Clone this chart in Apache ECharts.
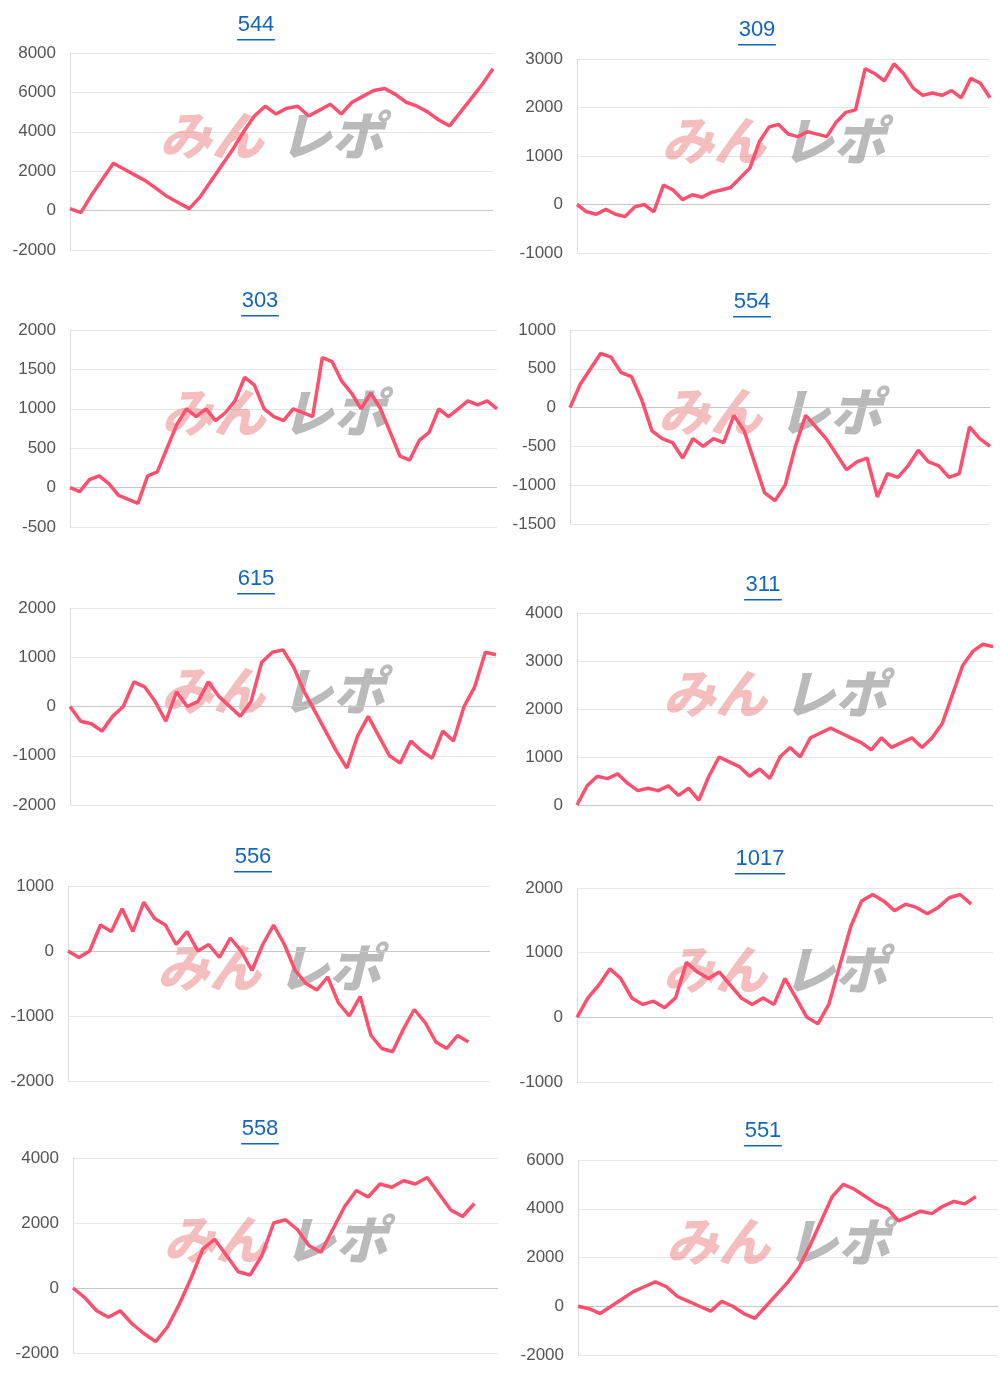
<!DOCTYPE html>
<html><head><meta charset="utf-8">
<script src="https://cdn.jsdelivr.net/npm/echarts@6/dist/echarts.min.js"></script>
<style>html,body{margin:0;background:#fff}#c{width:1000px;height:1375px}</style>
</head><body><div id="c"></div>
<script>
// 各台の差枚推移
const names = ['544', '309', '303', '554', '615', '311', '556', '1017', '558', '551'];
const s544 = [100,-100,800,1600,2400,2100,1800,1500,1100,700,400,100,700,1500,2300,3100,4000,4800,5300,4900,5200,5300,4800,5100,5400,4900,5500,5800,6100,6200,5900,5500,5300,5000,4600,4300,5000,5700,6400,7200];
const s309 = [0,-150,-200,-100,-200,-250,-50,0,-150,400,300,100,200,150,250,300,350,550,750,1300,1600,1650,1450,1400,1500,1450,1400,1700,1900,1950,2800,2700,2550,2900,2700,2400,2250,2300,2250,2350,2200,2600,2500,2200];
const s303 = [0,-50,100,150,50,-100,-150,-200,150,200,500,800,1000,900,1000,850,950,1100,1400,1300,1000,900,850,1000,950,900,1650,1600,1350,1200,1000,1200,1000,700,400,350,600,700,1000,900,1000,1100,1050,1100,1000];
const s554 = [0,300,500,700,650,450,400,100,-300,-400,-450,-650,-400,-500,-400,-450,-100,-300,-700,-1100,-1200,-1000,-500,-100,-250,-400,-600,-800,-700,-650,-1150,-850,-900,-750,-550,-700,-750,-900,-850,-250,-400,-500];
const s615 = [0,-300,-350,-500,-200,0,500,400,100,-300,300,0,100,500,200,0,-200,100,900,1100,1150,800,300,-100,-500,-900,-1250,-600,-200,-600,-1000,-1150,-700,-900,-1050,-500,-700,0,400,1100,1050];
const s311 = [0,400,600,550,650,450,300,350,300,400,200,350,100,600,1000,900,800,600,750,550,1000,1200,1000,1400,1500,1600,1500,1400,1300,1150,1400,1200,1300,1400,1200,1400,1700,2300,2900,3200,3350,3300];
const s556 = [0,-100,0,400,300,650,300,750,500,400,100,300,0,100,-100,200,0,-300,100,400,100,-300,-500,-600,-400,-800,-1000,-700,-1300,-1500,-1550,-1200,-900,-1100,-1400,-1500,-1300,-1400,null,null];
const s1017 = [0,300,500,750,600,300,200,250,150,300,850,700,600,700,500,300,200,300,200,600,300,0,-100,200,800,1400,1800,1900,1800,1650,1750,1700,1600,1700,1850,1900,1750,null,null];
const s558 = [0,-300,-700,-900,-700,-1100,-1400,-1650,-1200,-500,300,1200,1500,1000,500,400,1000,2000,2100,1800,1300,1100,1800,2500,3000,2800,3200,3100,3300,3200,3400,2900,2400,2200,2600,null,null];
const s551 = [0,-100,-300,0,300,600,800,1000,800,400,200,0,-200,200,0,-300,-500,0,500,1000,1600,2500,3500,4500,5000,4800,4500,4200,4000,3500,3700,3900,3800,4100,4300,4200,4500,null,null];
const seriesData = [s544, s309, s303, s554, s615, s311, s556, s1017, s558, s551];
const yMin = [-2000, -1000, -500, -1500, -2000, 0, -2000, -1000, -2000, -2000];
const yMax = [8000, 3000, 2000, 1000, 2000, 4000, 1000, 2000, 4000, 6000];
const yStep = [2000, 1000, 500, 500, 1000, 1000, 1000, 1000, 2000, 2000];

// 配置: 各パネルの位置 [left, top, right, bottom, titleX, titleY]
const boxes = [
  [70, 53, 493, 250, 256, 27], [577, 59, 990, 253, 757, 32],
  [70, 330, 497, 527, 260, 303], [570, 330, 990, 524, 752, 304],
  [70, 608, 496, 805, 256, 581], [577, 613, 993, 805, 763, 587],
  [68, 886, 490, 1081, 253, 859], [577, 888, 993, 1082, 760, 861],
  [73, 1158, 498, 1353, 260, 1131], [578, 1160, 998, 1355, 763, 1133]
];
const font = '"Liberation Sans", Arial, sans-serif';

let grid = [], xAxis = [], yAxis = [], series = [], graphic = [];
boxes.forEach((b, i) => {
  grid.push({left: b[0], top: b[1], width: b[2] - b[0], height: b[3] - b[1]});
  xAxis.push({gridIndex: i, type: 'category', boundaryGap: false,
    data: seriesData[i].map((v, k) => k),
    axisLine: {show: false}, axisTick: {show: false}, axisLabel: {show: false}, splitLine: {show: false}});
  yAxis.push({gridIndex: i, type: 'value', min: yMin[i], max: yMax[i], interval: yStep[i],
    axisLine: {show: true, lineStyle: {color: '#ddd'}}, axisTick: {show: false},
    axisLabel: {color: '#555', fontSize: 17, fontFamily: font, margin: 14, formatter: v => String(v)},
    splitLine: {lineStyle: {color: '#e6e6e6'}}});
  series.push({type: 'line', xAxisIndex: i, yAxisIndex: i, data: seriesData[i], showSymbol: false,
    z: 5, lineStyle: {color: '#ff4f6e', width: 3.5},
    markLine: {silent: true, symbol: 'none', label: {show: false},
      lineStyle: {color: '#c8c8c8', type: 'solid', width: 1}, data: [{yAxis: 0}]}});
  // タイトル
  graphic.push({type: 'text', x: b[4], y: b[5] - 13, z: 10,
    style: {text: names[i], fill: '#1565c0', font: '22px ' + font, textAlign: 'center'}});
  const w = names[i].length * 12.6;
  graphic.push({type: 'rect', shape: {x: b[4] - w / 2, y: b[5] + 12, width: w, height: 1.6}, style: {fill: '#1565c0'}, z: 10});
  // 透かし
  const cx = (b[0] + b[2]) / 2, cy = (b[1] + b[3]) / 2 - 40;
  graphic.push({type: 'text', x: cx - 122, y: cy - 2, z: 1,
    style: {text: 'みん', fill: 'rgba(230,110,110,0.45)', font: 'italic 900 52px "Noto Sans CJK JP"'}});
  graphic.push({type: 'text', x: cx - 2, y: cy - 2, z: 1,
    style: {text: 'レポ', fill: 'rgba(140,140,140,0.6)', font: 'italic 900 52px "Noto Sans CJK JP"'}});
});

const chart = echarts.init(document.getElementById('c'));
chart.setOption({animation: false, grid, xAxis, yAxis, series, graphic});
</script></body></html>
